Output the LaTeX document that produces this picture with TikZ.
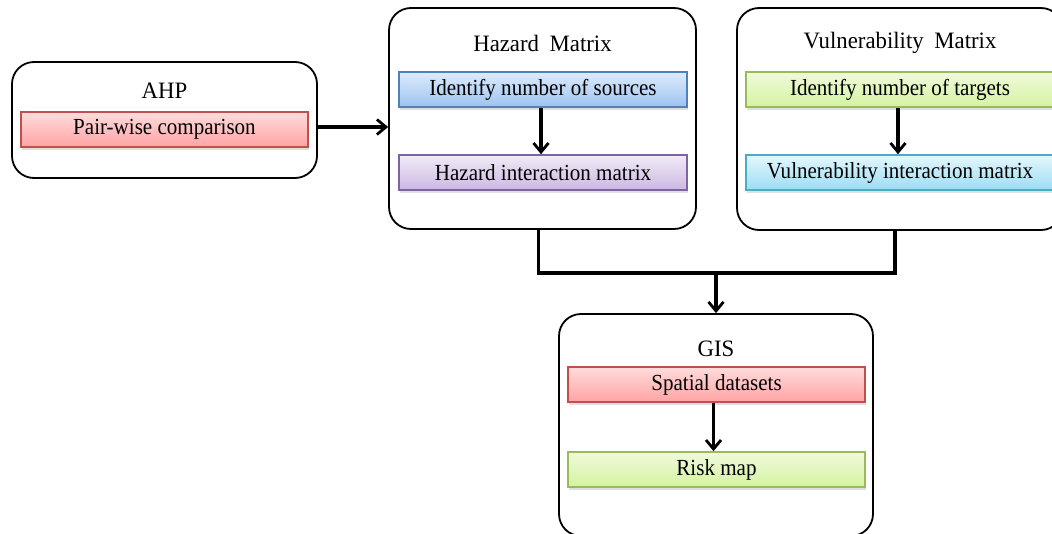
\documentclass[tikz,border=0pt]{standalone}
\usepackage{fontspec}
\setmainfont{Liberation Serif}
\newfontfamily\innerfont[FakeStretch=0.915]{Liberation Serif}
\newfontfamily\titlefont[FakeStretch=0.97]{Liberation Serif}
\usetikzlibrary{arrows.meta,shadows}
\definecolor{pinkT}{HTML}{FFDCDC}
\definecolor{pinkB}{HTML}{FFA3A3}
\definecolor{pinkD}{HTML}{C0504D}
\definecolor{blueT}{HTML}{DDEBFC}
\definecolor{blueB}{HTML}{9DC3F0}
\definecolor{blueD}{HTML}{4F81BD}
\definecolor{purpT}{HTML}{F1EBF7}
\definecolor{purpB}{HTML}{CCB8E2}
\definecolor{purpD}{HTML}{8064A2}
\definecolor{grnT}{HTML}{F0FADC}
\definecolor{grnB}{HTML}{D4F3A0}
\definecolor{grnD}{HTML}{9BBB59}
\definecolor{cyT}{HTML}{E4F7FD}
\definecolor{cyB}{HTML}{9CDDF3}
\definecolor{cyD}{HTML}{4BACC6}
\tikzset{
  outerbox/.style={draw=black, line width=1.8pt, rounded corners=22pt, fill=white},
  titletext/.style={font=\titlefont\fontsize{23.5}{26}\selectfont, inner sep=0pt},
  innerbox/.style n args={3}{draw=#3, line width=1.6pt, top color=#1, bottom color=#2,
     font=\innerfont\fontsize{23}{26}\selectfont, inner sep=0pt,
     drop shadow={opacity=0.25, shadow xshift=1pt, shadow yshift=-2.5pt}},
  arr/.style={line width=3.3pt, -{Straight Barb[length=9pt,width=15pt,line width=2.8pt]}},
  conn/.style={line width=3.3pt, line join=miter}
}
\begin{document}
\begin{tikzpicture}[x=1pt,y=-1pt]
\useasboundingbox (0,0) rectangle (1052,533);
\clip (0,0) rectangle (1052,533);
\fill[white] (0,0) rectangle (1052,533);

% outer boxes
\node[outerbox, minimum width=305pt, minimum height=116pt] (ahp) at (164.5,120) {};
\node[outerbox, minimum width=307pt, minimum height=221pt] (haz) at (542.5,118.5) {};
\node[outerbox, minimum width=326pt, minimum height=222pt] (vul) at (900,119) {};
\node[outerbox, minimum width=314pt, minimum height=222pt] (gis) at (716,425) {};

% titles
\node[titletext] (ahpT) at (164.5,91) {AHP};
\node[titletext] (hazT) at (542.5,43) {Hazard\hspace{0.45em}Matrix};
\node[titletext] (vulT) at (900,43) {Vulnerability\hspace{0.45em}Matrix};
\node[titletext] (gisT) at (716,349) {GIS};

% inner boxes
\node[innerbox={pinkT}{pinkB}{pinkD}, minimum width=287pt, minimum height=35pt] (pair) at (164.5,129.5) {Pair-wise comparison};
\node[innerbox={blueT}{blueB}{blueD}, minimum width=288pt, minimum height=35pt] (src) at (543,89.5) {Identify number of sources};
\node[innerbox={purpT}{purpB}{purpD}, minimum width=288pt, minimum height=35pt] (hint) at (543,172.5) {Hazard interaction matrix};
\node[innerbox={grnT}{grnB}{grnD}, minimum width=308pt, minimum height=35pt] (tgt) at (900,89.5) {Identify number of targets};
\node[innerbox={cyT}{cyB}{cyD}, minimum width=308pt, minimum height=35pt] (vint) at (900,172.5) {Vulnerability interaction matrix};
\node[innerbox={pinkT}{pinkB}{pinkD}, minimum width=297pt, minimum height=35pt] (spat) at (716.5,384.5) {Spatial datasets};
\node[innerbox={grnT}{grnB}{grnD}, minimum width=297pt, minimum height=35pt] (risk) at (716.5,469.5) {Risk map};

% arrows
\draw[arr] (ahp.east |- 0,127) -- (haz.west |- 0,127);
\draw[arr] ([xshift=-2pt]src.south) -- ([xshift=-2pt]hint.north);
\draw[arr] ([xshift=-2pt]tgt.south) -- ([xshift=-2pt]vint.north);
\draw[arr] ([xshift=-3pt]spat.south) -- ([xshift=-3pt]risk.north);

% merge connector
\coordinate (mL) at ([xshift=-4pt]haz.south);
\coordinate (mR) at ([xshift=-5pt]vul.south);
\draw[conn] (mL) -- (mL |- 0,273) -- (mR |- 0,273) -- (mR);
\draw[arr] (gis.north |- 0,273) -- (gis.north);
\end{tikzpicture}
\end{document}
